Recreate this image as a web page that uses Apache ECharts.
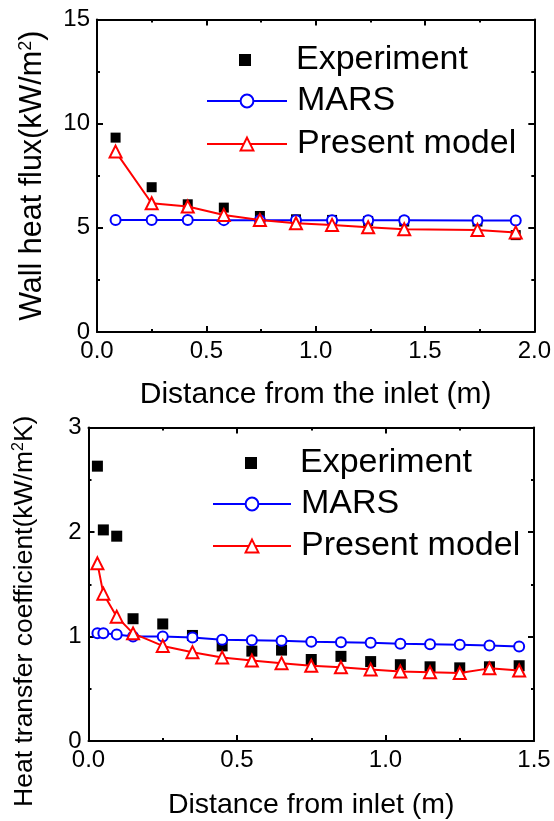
<!DOCTYPE html>
<html><head><meta charset="utf-8">
<script src="https://cdn.jsdelivr.net/npm/echarts@6/dist/echarts.min.js"></script>
<style>html,body{margin:0;padding:0;background:#fff}#c{width:554px;height:821px}</style>
</head><body><div id="c"></div>
<script>
// ---- Top panel data ----
const topX = [0.085, 0.25, 0.415, 0.58, 0.745, 0.91, 1.075, 1.24, 1.405, 1.74, 1.915];
const topExperiment = [9.33, 6.95, 6.13, 5.97, 5.57, 5.41, 5.38, 5.33, 5.3, 5.3, 4.65];
const topMARS = [5.38, 5.38, 5.38, 5.37, 5.37, 5.37, 5.36, 5.36, 5.36, 5.35, 5.35];
const topPresent = [8.66, 6.18, 6.02, 5.62, 5.38, 5.22, 5.14, 5.03, 4.93, 4.9, 4.78];
// ---- Bottom panel data ----
const botX = [0.03, 0.05, 0.095, 0.15, 0.25, 0.35, 0.45, 0.55, 0.65, 0.75, 0.85, 0.95, 1.05, 1.15, 1.25, 1.35, 1.45];
const botExperiment = [2.63, 2.02, 1.96, 1.17, 1.12, 1.01, 0.91, 0.86, 0.87, 0.78, 0.81, 0.76, 0.73, 0.71, 0.70, 0.71, 0.72];
const botMARS = [1.03, 1.03, 1.02, 1.0, 1.0, 0.99, 0.97, 0.965, 0.96, 0.95, 0.945, 0.94, 0.93, 0.925, 0.92, 0.915, 0.905];
const botPresent = [1.70, 1.41, 1.19, 1.03, 0.91, 0.85, 0.80, 0.77, 0.745, 0.72, 0.705, 0.685, 0.665, 0.657, 0.65, 0.695, 0.675];
// ---- Labels ----
const seriesNames = ['Experiment', 'MARS', 'Present model'];
const topXTitle = 'Distance from the inlet (m)';
const topYTitle = 'Wall heat flux(kW/m{s|2})';
const botXTitle = 'Distance from inlet (m)';
const botYTitle = 'Heat transfer coefficient(kW/m{s|2}K)';

const FONT = 'Liberation Sans, Arial, sans-serif';
const zip = (xs, ys) => xs.map((x, i) => [x, ys[i]]);

function axisCommon(showLabel, fmt) {
  return {
    axisLine: {show: true, onZero: false, lineStyle: {color: '#000', width: 2}},
    axisTick: {show: true, inside: true, length: 6, lineStyle: {color: '#000', width: 2}},
    minorTick: {show: true, splitNumber: 2, length: 3, lineStyle: {color: '#000', width: 2}},
    splitLine: {show: false},
    axisLabel: {show: showLabel, color: '#000', fontSize: 24, fontFamily: FONT, margin: 7, formatter: fmt}
  };
}
const fmt1 = v => v.toFixed(1);
const fmt0 = v => String(Math.round(v));

function xAxes(gi, max, title, gap, fs) {
  return [
    Object.assign({type: 'value', gridIndex: gi, min: 0, max: max, interval: 0.5, position: 'bottom',
      name: title, nameLocation: 'middle', nameGap: gap,
      nameTextStyle: {color: '#000', fontSize: fs, fontFamily: FONT}}, axisCommon(true, fmt1)),
    Object.assign({type: 'value', gridIndex: gi, min: 0, max: max, interval: 0.5, position: 'top'}, axisCommon(false, fmt1))
  ];
}
function yAxes(gi, max, interval, title, gap, fs, pad) {
  return [
    Object.assign({type: 'value', gridIndex: gi, min: 0, max: max, interval: interval, position: 'left',
      name: title, nameLocation: 'middle', nameGap: gap,
      nameTextStyle: {color: '#000', fontSize: fs, fontFamily: FONT, padding: pad,
        rich: {s: {fontSize: Math.round(fs * 0.6), fontFamily: FONT, color: '#000', verticalAlign: 'top', padding: [0, 0, Math.round(fs * 0.45), 0]}}}},
      axisCommon(true, fmt0)),
    Object.assign({type: 'value', gridIndex: gi, min: 0, max: max, interval: interval, position: 'right'}, axisCommon(false, fmt0))
  ];
}

function seriesFor(xi, yi, xs, exp, mars, pres, sq) {
  return [
    {name: seriesNames[0], type: 'scatter', xAxisIndex: xi, yAxisIndex: yi, data: zip(xs, exp),
      symbol: 'rect', symbolSize: sq, itemStyle: {color: '#000', opacity: 1}, z: 2},
    {name: seriesNames[1], type: 'line', xAxisIndex: xi, yAxisIndex: yi, data: zip(xs, mars),
      symbol: 'emptyCircle', symbolSize: 10, showAllSymbol: true,
      lineStyle: {color: '#0000ff', width: 2}, itemStyle: {color: '#0000ff', borderWidth: 2}, z: 3},
    {name: seriesNames[2], type: 'line', xAxisIndex: xi, yAxisIndex: yi, data: zip(xs, pres),
      symbol: 'emptyTriangle', symbolSize: 12, showAllSymbol: true,
      lineStyle: {color: '#ff0000', width: 2}, itemStyle: {color: '#ff0000', borderWidth: 2}, z: 4}
  ];
}

function legendRow(name, left, top, w, pad) {
  return {
    data: [name], left: left, top: top, padding: 0, itemWidth: w, itemHeight: name === 'Experiment' ? 12 : 16,
    selectedMode: false,
    textStyle: {color: '#000', fontSize: 34, fontFamily: FONT, lineHeight: 34, padding: [0, 0, 0, pad]}
  };
}

const chart = echarts.init(document.getElementById('c'), null, {renderer: 'canvas'});
chart.setOption({
  backgroundColor: '#fff',
  animation: false,
  grid: [
    {left: 97, top: 19.5, width: 438, height: 312.5},
    {left: 88.5, top: 427.5, width: 445.5, height: 314.5}
  ],
  xAxis: xAxes(0, 2, topXTitle, 48, 30).concat(xAxes(1, 1.5, botXTitle, 50, 28.5)),
  yAxis: yAxes(0, 15, 5, topYTitle, 48, 30.5, 0).concat(yAxes(1, 3, 1, botYTitle, 50, 26.5, [0, 54, 0, 0])),
  legend: [
    legendRow('Experiment', 239, 43, 12, 40),
    legendRow('MARS', 206, 84, 80, 5),
    legendRow('Present model', 206, 127, 80, 5),
    legendRow('Experiment', 245, 446, 12, 38),
    legendRow('MARS', 212, 487, 78, 5),
    legendRow('Present model', 212, 529, 78, 5)
  ],
  series: seriesFor(0, 0, topX, topExperiment, topMARS, topPresent, 10)
    .concat(seriesFor(2, 2, botX, botExperiment, botMARS, botPresent, 11))
});
</script></body></html>
